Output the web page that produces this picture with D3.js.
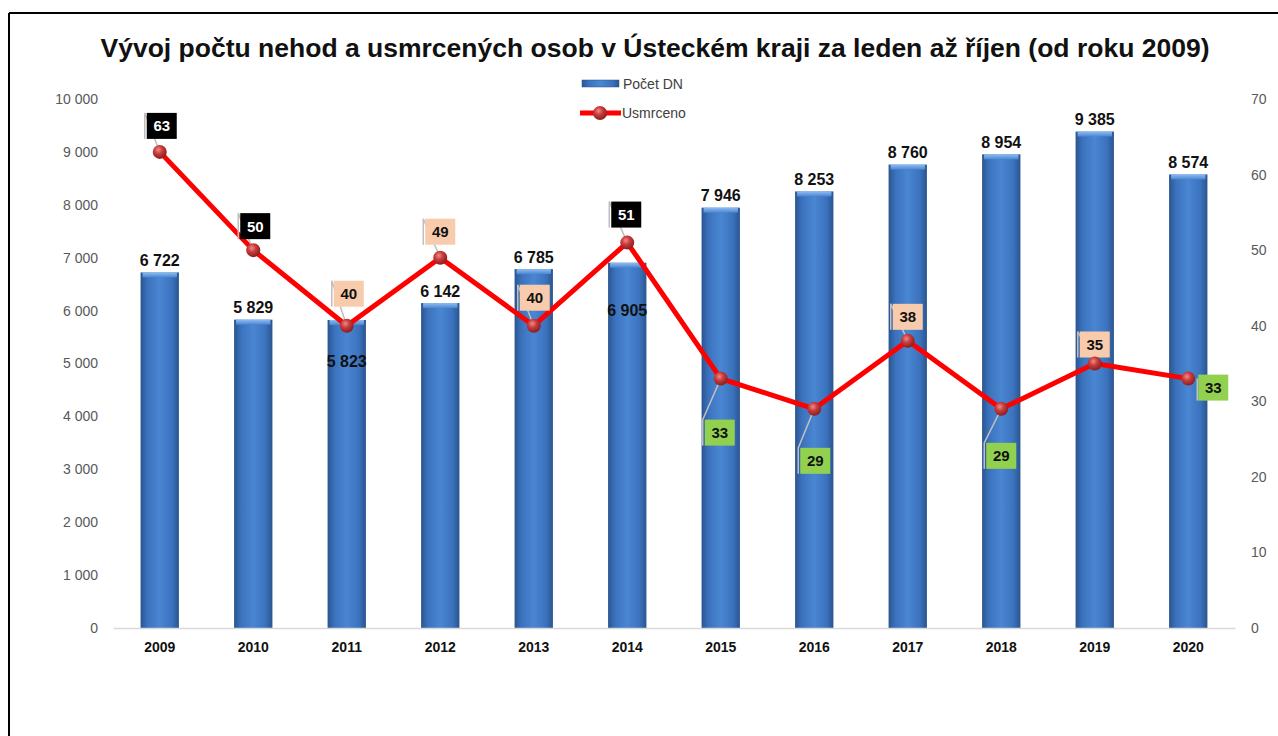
<!DOCTYPE html>
<html>
<head>
<meta charset="utf-8">
<script src="https://cdn.jsdelivr.net/npm/d3@7"></script>
<style>
  body { margin: 0; background: #fff; }
  svg text { font-family: "Liberation Sans", Arial, sans-serif; }
</style>
</head>
<body>
<div id="chart"></div>
<script>
// data
var years = ["2009","2010","2011","2012","2013","2014","2015","2016","2017","2018","2019","2020"];
var nehody = [6722, 5829, 5823, 6142, 6785, 6905, 7946, 8253, 8760, 8954, 9385, 8574];
var usmrceno = [63, 50, 40, 49, 40, 51, 33, 29, 38, 29, 35, 33];
var leftTicks = [0, 1000, 2000, 3000, 4000, 5000, 6000, 7000, 8000, 9000, 10000];
var rightTicks = [0, 10, 20, 30, 40, 50, 60, 70];

// label layout (box colour + offset from point), bar label placement
var labelKind = ["dark","dark","peach","peach","peach","dark","green","green","peach","green","peach","green"];
var labelOff = [[2,-26],[2,-24],[2,-32],[0,-26],[1,-28],[-1,-28],[-1,54],[1,52],[0,-24],[0,47],[0,-19],[25,9]];
var barLabelDy = [-12,-12,41,-12,-12,48,-12,-12,-12,-12,-12,-12];

var width = 1278, height = 736;
var margin = {left: 113, right: 1235, top: 99, bottom: 628};

var svg = d3.select("#chart").append("svg")
  .attr("width", width).attr("height", height);

var defs = svg.append("defs");
var barGrad = defs.append("linearGradient").attr("id", "barGrad")
  .attr("x1", "0%").attr("x2", "100%").attr("y1", "0%").attr("y2", "0%");
barGrad.append("stop").attr("offset", "0%").attr("stop-color", "#2a558f");
barGrad.append("stop").attr("offset", "18%").attr("stop-color", "#3b72bd");
barGrad.append("stop").attr("offset", "50%").attr("stop-color", "#4a86d2");
barGrad.append("stop").attr("offset", "82%").attr("stop-color", "#3b72bd");
barGrad.append("stop").attr("offset", "100%").attr("stop-color", "#2a558f");

var topGrad = defs.append("linearGradient").attr("id", "topGrad")
  .attr("x1", "0%").attr("x2", "0%").attr("y1", "0%").attr("y2", "100%");
topGrad.append("stop").attr("offset", "0%").attr("stop-color", "#8fbdf0");
topGrad.append("stop").attr("offset", "100%").attr("stop-color", "#4a86d2");

var dotGrad = defs.append("radialGradient").attr("id", "dotGrad")
  .attr("cx", "40%").attr("cy", "35%").attr("r", "65%");
dotGrad.append("stop").attr("offset", "0%").attr("stop-color", "#f08a8a");
dotGrad.append("stop").attr("offset", "45%").attr("stop-color", "#c83c3c");
dotGrad.append("stop").attr("offset", "100%").attr("stop-color", "#8a1e1e");

// frame (top + left only visible)
svg.append("line").attr("x1", 9).attr("x2", width).attr("y1", 13).attr("y2", 13)
  .attr("stroke", "#000").attr("stroke-width", 2);
svg.append("line").attr("x1", 9).attr("x2", 9).attr("y1", 13).attr("y2", height)
  .attr("stroke", "#000").attr("stroke-width", 2);

// title
svg.append("text").attr("x", 655).attr("y", 57)
  .attr("text-anchor", "middle").attr("font-size", "26.5px").attr("font-weight", "bold")
  .attr("fill", "#111")
  .text("Vývoj počtu nehod a usmrcených osob v Ústeckém kraji za leden až říjen (od roku 2009)");

var x = d3.scaleBand().domain(years).range([margin.left, margin.right]).paddingInner(0.59).paddingOuter(0.295);
var yL = d3.scaleLinear().domain([0, 10000]).range([margin.bottom, margin.top]);
var yR = d3.scaleLinear().domain([0, 70]).range([margin.bottom, margin.top]);

var cz = d3.formatLocale({decimal: ",", thousands: " ", grouping: [3], currency: ["", " Kč"]});
var fmt = cz.format(",d");

// left axis
var leftAxis = d3.axisLeft(yL).tickValues(leftTicks).tickFormat(fmt).tickSize(0).tickPadding(15);
var gL = svg.append("g").attr("transform", "translate(" + margin.left + ",0)").call(leftAxis);
gL.select(".domain").remove();
gL.selectAll("text").attr("font-size", "14px").attr("fill", "#595959");

// right axis
var rightAxis = d3.axisRight(yR).tickValues(rightTicks).tickSize(0).tickPadding(16);
var gR = svg.append("g").attr("transform", "translate(" + margin.right + ",0)").call(rightAxis);
gR.select(".domain").remove();
gR.selectAll("text").attr("font-size", "14px").attr("fill", "#595959");

// bars
var bars = svg.append("g").selectAll("g").data(nehody).enter().append("g");
bars.append("rect")
  .attr("x", function(d, i) { return x(years[i]); })
  .attr("y", function(d) { return yL(d); })
  .attr("width", x.bandwidth())
  .attr("height", function(d) { return yL(0) - yL(d); })
  .attr("fill", "url(#barGrad)");
bars.append("rect")
  .attr("x", function(d, i) { return x(years[i]) + 2; })
  .attr("y", function(d) { return yL(d); })
  .attr("width", x.bandwidth() - 4)
  .attr("height", 5)
  .attr("fill", "url(#topGrad)");

// baseline
var gX = svg.append("g").attr("transform", "translate(0," + margin.bottom + ")")
  .call(d3.axisBottom(x).tickSize(0).tickPadding(14));
gX.select(".domain").attr("stroke", "#d9d9d9").attr("stroke-width", 1.5);
gX.selectAll("text").attr("font-size", "14px").attr("font-weight", "bold").attr("fill", "#111");

// bar value labels
svg.append("g").selectAll("text").data(nehody).enter().append("text")
  .attr("x", function(d, i) { return x(years[i]) + x.bandwidth() / 2; })
  .attr("y", function(d, i) { return yL(d) + barLabelDy[i]; })
  .attr("dy", "0.35em")
  .attr("text-anchor", "middle")
  .attr("font-size", "16px").attr("font-weight", "bold").attr("fill", "#111")
  .text(function(d) { return fmt(d); });

// line
var cx = function(i) { return x(years[i]) + x.bandwidth() / 2; };
var line = d3.line()
  .x(function(d, i) { return cx(i); })
  .y(function(d) { return yR(d); });
svg.append("path").datum(usmrceno)
  .attr("d", line).attr("fill", "none")
  .attr("stroke", "#ff0000").attr("stroke-width", 5).attr("stroke-linejoin", "round");

// leader lines + label boxes
var boxW = 30, boxH = 26;
var fills = {dark: "#000", peach: "#f8cbad", green: "#92d050"};
var lab = svg.append("g").selectAll("g").data(usmrceno).enter().append("g");
lab.append("path")
  .attr("d", function(d, i) {
    var px = cx(i), py = yR(d);
    var bx = px + labelOff[i][0] - boxW / 2 - 2;
    var by = py + labelOff[i][1] - boxH / 2;
    if (i === 11) return "M" + (bx + 1) + "," + (py) + "V" + (by + boxH);
    return "M" + px + "," + py + "L" + bx + "," + by + "V" + (by + boxH);
  })
  .attr("fill", "none").attr("stroke", "#bfbfbf").attr("stroke-width", 1.5);

// markers
svg.append("g").selectAll("circle").data(usmrceno).enter().append("circle")
  .attr("cx", function(d, i) { return cx(i); })
  .attr("cy", function(d) { return yR(d); })
  .attr("r", 7)
  .attr("fill", "url(#dotGrad)");

lab.append("rect")
  .attr("x", function(d, i) { return cx(i) + labelOff[i][0] - boxW / 2; })
  .attr("y", function(d, i) { return yR(d) + labelOff[i][1] - boxH / 2; })
  .attr("width", boxW).attr("height", boxH)
  .attr("fill", function(d, i) { return fills[labelKind[i]]; });
lab.append("text")
  .attr("x", function(d, i) { return cx(i) + labelOff[i][0]; })
  .attr("y", function(d, i) { return yR(d) + labelOff[i][1]; })
  .attr("dy", "0.36em")
  .attr("text-anchor", "middle")
  .attr("font-size", "15px").attr("font-weight", "bold")
  .attr("fill", function(d, i) { return labelKind[i] === "dark" ? "#fff" : "#111"; })
  .text(function(d) { return d; });

// legend
var leg = svg.append("g");
leg.append("rect").attr("x", 582).attr("y", 80).attr("width", 37).attr("height", 7)
  .attr("fill", "url(#barGrad)").attr("stroke", "#2a558f").attr("stroke-width", 0.5);
leg.append("text").attr("x", 623).attr("y", 84).attr("dy", "0.35em")
  .attr("font-size", "14px").attr("fill", "#404040").text("Počet DN");
leg.append("line").attr("x1", 580).attr("x2", 621).attr("y1", 113).attr("y2", 113)
  .attr("stroke", "#ff0000").attr("stroke-width", 5);
leg.append("circle").attr("cx", 600).attr("cy", 113).attr("r", 7).attr("fill", "url(#dotGrad)");
leg.append("text").attr("x", 622).attr("y", 113).attr("dy", "0.35em")
  .attr("font-size", "14px").attr("fill", "#404040").text("Usmrceno");
</script>
</body>
</html>
